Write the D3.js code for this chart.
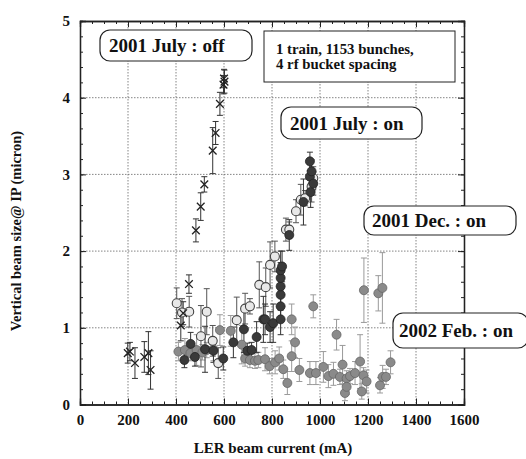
<!DOCTYPE html>
<html><head><meta charset="utf-8">
<script src="https://cdn.jsdelivr.net/npm/d3@7"></script>
<style>body{margin:0;background:#fff}svg{display:block}text{font-family:"Liberation Serif","Times New Roman",serif;font-weight:bold}</style>
</head><body>
<svg id="c" width="526" height="459"></svg>
<script>
// [current mA, size micron, error]
const julyOff = [[199,0.67,0.13],[208,0.69,0.12],[229,0.54,0.2],[268,0.62,0.2],[285,0.67,0.28],[294,0.45,0.25],[420,1.03,0.2],[430,1.19,0.15],[454,1.57,0.12],[483,2.27,0.15],[503,2.58,0.18],[518,2.87,0.1],[553,3.31,0.3],[565,3.54,0.15],[583,3.92,0.15],[598,4.17,0.12],[600,4.25,0.12],[602,4.21,0.15]];
const julyOn = [[403,1.32,0.2],[425,1.2,0.18],[455,1.21,0.2],[504,0.89,0.4],[528,1.21,0.3],[553,0.83,0.2],[576,0.54,0.2],[653,1.1,0.3],[688,1.25,0.2],[708,1.28,0.1],[747,1.56,0.3],[774,1.53,0.25],[792,1.82,0.3],[812,1.93,0.2],[858,2.28,0.15],[872,2.28,0.1],[900,2.52,0.15],[920,2.67,0.2],[938,2.69,0.1],[965,2.84,0.2],[972,2.95,0.15]];
const decOn = [[435,0.58,0.1],[461,0.79,0.15],[479,0.62,0.12],[521,0.72,0.3],[556,0.7,0.15],[597,0.6,0.15],[639,0.81,0.2],[683,0.98,0.3],[697,0.7,0.1],[715,0.71,0.1],[736,0.88,0.2],[764,1.11,0.3],[771,1.11,0.2],[792,1.01,0.2],[805,1.06,0.25],[836,1.11,0.2],[836,1.28,0.2],[836,1.43,0.2],[836,1.54,0.25],[836,1.65,0.2],[836,1.75,0.25],[842,1.8,0.2],[872,2.21,0.2],[931,2.64,0.3],[961,2.77,0.2],[958,2.97,0.2],[972,2.88,0.15],[965,3.04,0.15],[958,3.17,0.12]];
const febOn = [[410,0.69,0.12],[437,0.71,0.15],[460,0.67,0.1],[486,0.71,0.2],[510,0.68,0.1],[528,0.71,0.1],[556,0.72,0.15],[583,0.97,0.2],[628,0.96,0.2],[674,0.78,0.25],[688,0.6,0.1],[708,0.58,0.1],[729,0.57,0.1],[743,0.58,0.1],[771,0.59,0.15],[790,0.5,0.1],[813,0.55,0.15],[830,0.6,0.15],[847,0.46,0.12],[864,0.28,0.15],[882,0.63,0.2],[882,1.11,0.2],[896,0.81,0.2],[914,0.45,0.15],[958,0.41,0.15],[972,1.28,0.15],[983,0.41,0.15],[1014,0.49,0.2],[1035,0.37,0.15],[1056,0.4,0.15],[1069,0.91,0.2],[1083,0.36,0.1],[1094,0.52,0.25],[1104,0.15,0.1],[1111,0.34,0.1],[1111,0.23,0.1],[1125,0.37,0.1],[1146,0.41,0.15],[1167,0.56,0.35],[1174,0.17,0.1],[1181,0.38,0.1],[1183,1.49,0.42],[1194,0.3,0.15],[1243,1.45,0.23],[1250,0.25,0.1],[1260,1.52,0.46],[1261,0.36,0.15],[1275,0.36,0.1],[1294,0.55,0.15]];
const xTicks = [0,200,400,600,800,1000,1200,1400,1600];
const yTicks = [0,1,2,3,4,5];
const xLabel = "LER beam current (mA)";
const yLabel = "Vertical beam size@ IP (micron)";
const notes = ["2001 July : off","1 train, 1153 bunches,","4 rf bucket spacing","2001 July : on","2001 Dec. : on","2002 Feb. : on"];

const svg = d3.select("#c");
const L=80,R=464,T=21,B=404.5;
const x = d3.scaleLinear().domain([0,1600]).range([L,R]);
const y = d3.scaleLinear().domain([0,5]).range([B,T]);

// grid
const g = svg.append("g");
g.selectAll(".gx").data(xTicks.slice(1,-1)).enter().append("line")
 .attr("x1",d=>x(d)).attr("x2",d=>x(d)).attr("y1",T).attr("y2",B)
 .attr("stroke","#666").attr("stroke-width",0.8).attr("stroke-dasharray","1.5,1.5");
g.selectAll(".gy").data(yTicks.slice(1,-1)).enter().append("line")
 .attr("y1",d=>y(d)).attr("y2",d=>y(d)).attr("x1",L).attr("x2",R)
 .attr("stroke","#666").attr("stroke-width",0.8).attr("stroke-dasharray","1.5,1.5");

// axes with inward ticks on all sides
function axes(){
  const xa = svg.append("g").attr("transform",`translate(0,${B})`)
    .call(d3.axisBottom(x).tickValues(xTicks).tickSize(-6).tickPadding(10).tickFormat(d3.format("d")));
  const xm = svg.append("g").attr("transform",`translate(0,${B})`)
    .call(d3.axisBottom(x).tickValues(d3.range(0,1601,50)).tickSize(-3).tickFormat(""));
  const xt = svg.append("g").attr("transform",`translate(0,${T})`)
    .call(d3.axisTop(x).tickValues(xTicks).tickSize(-6).tickFormat(""));
  const xtm = svg.append("g").attr("transform",`translate(0,${T})`)
    .call(d3.axisTop(x).tickValues(d3.range(0,1601,50)).tickSize(-3).tickFormat(""));
  const ya = svg.append("g").attr("transform",`translate(${L},0)`)
    .call(d3.axisLeft(y).tickValues(yTicks).tickSize(-6).tickPadding(10).tickFormat(d3.format("d")));
  const ym = svg.append("g").attr("transform",`translate(${L},0)`)
    .call(d3.axisLeft(y).tickValues(d3.range(0,5.01,0.2)).tickSize(-3).tickFormat(""));
  const yr = svg.append("g").attr("transform",`translate(${R},0)`)
    .call(d3.axisRight(y).tickValues(yTicks).tickSize(-6).tickFormat(""));
  const yrm = svg.append("g").attr("transform",`translate(${R},0)`)
    .call(d3.axisRight(y).tickValues(d3.range(0,5.01,0.2)).tickSize(-3).tickFormat(""));
  [xa,xm,xt,xtm,ya,ym,yr,yrm].forEach(a=>{
    a.select(".domain").attr("stroke","#222").attr("stroke-width",1.3);
    a.selectAll(".tick line").attr("stroke","#222").attr("stroke-width",1);
    a.selectAll("text").attr("font-family","Liberation Serif").attr("font-weight","bold").attr("font-size",15).attr("fill","#111");
  });
}
axes();

// error bars
function errBars(data,color){
  const eg = svg.append("g").attr("stroke",color).attr("stroke-width",1);
  data.forEach(d=>{
    eg.append("line").attr("x1",x(d[0])).attr("x2",x(d[0])).attr("y1",y(d[1]-d[2])).attr("y2",y(d[1]+d[2]));
    [d[1]-d[2],d[1]+d[2]].forEach(v=>eg.append("line").attr("x1",x(d[0])-3).attr("x2",x(d[0])+3).attr("y1",y(v)).attr("y2",y(v)));
  });
}
errBars(febOn,"#9a9a9a");
errBars(julyOn,"#555");
errBars(decOn,"#333");
errBars(julyOff,"#333");

svg.append("g").selectAll("circle").data(febOn).enter().append("circle")
  .attr("cx",d=>x(d[0])).attr("cy",d=>y(d[1])).attr("r",4.5)
  .attr("fill","#8a8a8a").attr("stroke","#666").attr("stroke-width",0.8);
svg.append("g").selectAll("circle").data(julyOn).enter().append("circle")
  .attr("cx",d=>x(d[0])).attr("cy",d=>y(d[1])).attr("r",4.5)
  .attr("fill","#e8e8e8").attr("stroke","#444").attr("stroke-width",1.1);
svg.append("g").selectAll("circle").data(decOn).enter().append("circle")
  .attr("cx",d=>x(d[0])).attr("cy",d=>y(d[1])).attr("r",4.5)
  .attr("fill","#3a3a3a").attr("stroke","#222").attr("stroke-width",0.8);
svg.append("g").selectAll("path").data(julyOff).enter().append("path")
  .attr("d",d3.symbol(d3.symbolX,40))
  .attr("transform",d=>`translate(${x(d[0])},${y(d[1])})`)
  .attr("stroke","#222").attr("stroke-width",1.3).attr("fill","none");

// annotation boxes
function rbox(x0,y0,w,h,text,fs,pad){
  svg.append("rect").attr("x",x0).attr("y",y0).attr("width",w).attr("height",h)
    .attr("rx",10).attr("ry",10).attr("fill","#fff").attr("stroke","#222").attr("stroke-width",1.2);
  svg.append("text").attr("x",x0+pad).attr("y",y0+h/2+6.5)
    .attr("font-size",fs).attr("fill","#111").text(text);
}
rbox(100,30,152,31,notes[0],19,9);
svg.append("rect").attr("x",264).attr("y",31).attr("width",191).attr("height",51)
  .attr("fill","#fff").attr("stroke","#222").attr("stroke-width",1);
svg.append("text").attr("x",276).attr("y",54).attr("font-size",14.8).attr("fill","#111").text(notes[1]);
svg.append("text").attr("x",276).attr("y",69).attr("font-size",14.8).attr("fill","#111").text(notes[2]);
rbox(281,107,141,32,notes[3],19,9);
rbox(364,206,152,29,notes[4],19,8);
rbox(393,313,135,35,notes[5],19,6);

// axis titles
svg.append("text").attr("x",273).attr("y",453).attr("text-anchor","middle")
  .attr("font-size",15).attr("fill","#111").text(xLabel);
svg.append("text").attr("transform","translate(21,231) rotate(-90)").attr("text-anchor","middle")
  .attr("font-size",14.5).attr("fill","#111").text(yLabel);
</script>
</body></html>
